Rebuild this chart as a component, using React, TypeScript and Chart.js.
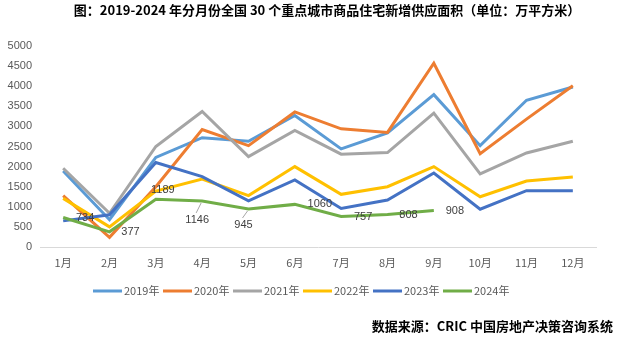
import React, { useEffect, useRef } from "react";
import { Chart, registerables } from "chart.js";

Chart.register(...registerables);

const TITLE = "图：2019-2024 年分月份全国 30 个重点城市商品住宅新增供应面积（单位：万平方米）";
const SOURCE = "数据来源：CRIC 中国房地产决策咨询系统";

const months = ["1月", "2月", "3月", "4月", "5月", "6月", "7月", "8月", "9月", "10月", "11月", "12月"];
const seriesNames = ["2019年", "2020年", "2021年", "2022年", "2023年", "2024年"];
const seriesColors = ["#5B9BD5", "#ED7D31", "#A5A5A5", "#FFC000", "#4472C4", "#70AD47"];

const v2019 = [1890, 680, 2230, 2720, 2630, 3270, 2440, 2840, 3790, 2520, 3650, 3980];
const v2020 = [1280, 240, 1500, 2920, 2520, 3360, 2940, 2850, 4570, 2320, 3180, 4010];
const v2021 = [1960, 840, 2500, 3370, 2250, 2900, 2310, 2350, 3330, 1820, 2340, 2630];
const v2022 = [1210, 500, 1390, 1690, 1280, 2000, 1310, 1500, 2000, 1250, 1640, 1740];
const v2023 = [650, 800, 2100, 1750, 1150, 1670, 960, 1170, 1840, 940, 1400, 1400];
const v2024 = [734, 377, 1189, 1146, 945, 1060, 757, 808, 908];

const yTicksMax = 5000;
const yTicksStep = 500;

export default function App() {
  const ref = useRef<HTMLCanvasElement | null>(null);

  useEffect(() => {
    const canvas = ref.current;
    if (!canvas) return;
    const allSeries = [v2019, v2020, v2021, v2022, v2023, v2024];

    // label offsets for the 2024 data labels (styling only)
    const labelOffsets = [
      [22, 0], [21, 0], [7, -9], [-5, 19], [-5, 16], [25, 0], [22, 0], [21, 0], [21, 0],
    ];
    const leaders = [false, false, false, true, true, false, false, false, false];

    const overlay = {
      id: "overlay",
      afterDatasetsDraw(chart: any) {
        const ctx = chart.ctx;
        ctx.save();
        const meta = chart.getDatasetMeta(5);
        ctx.font = "11px 'Liberation Sans', Arial, sans-serif";
        ctx.fillStyle = "#404040";
        ctx.textAlign = "center";
        ctx.textBaseline = "middle";
        meta.data.forEach((pt: any, i: number) => {
          const off = labelOffsets[i] || [20, 0];
          const lx = pt.x + off[0];
          const ly = pt.y + off[1];
          if (leaders[i]) {
            ctx.strokeStyle = "#A6A6A6";
            ctx.lineWidth = 1;
            ctx.beginPath();
            ctx.moveTo(pt.x - 1, pt.y + 2);
            ctx.lineTo(lx - 1, ly - 7);
            ctx.stroke();
          }
          ctx.fillText(String(v2024[i]), lx, ly);
        });
        ctx.restore();
      },
      afterDraw(chart: any) {
        const ctx = chart.ctx;
        ctx.save();
        ctx.fillStyle = "#000000";
        ctx.textBaseline = "middle";
        ctx.textAlign = "center";
        ctx.font = "bold 13px 'Noto Sans CJK SC', sans-serif";
        ctx.fillText(TITLE, 327, 10);
        ctx.textAlign = "right";
        ctx.fillText(SOURCE, 613, 326);
        ctx.font = "11px 'Noto Sans CJK SC', sans-serif";
        ctx.textAlign = "left";
        let x = 93;
        const y = 291;
        seriesNames.forEach((name, i) => {
          ctx.strokeStyle = seriesColors[i];
          ctx.lineWidth = 3;
          ctx.beginPath();
          ctx.moveTo(x, y);
          ctx.lineTo(x + 29, y);
          ctx.stroke();
          ctx.fillStyle = "#595959";
          ctx.fillText(name, x + 31, y);
          x += 70;
        });
        ctx.restore();
      },
    };

    const chart = new Chart(canvas, {
      type: "line",
      data: {
        labels: months,
        datasets: allSeries.map((d, i) => ({
          label: seriesNames[i],
          data: d,
          borderColor: seriesColors[i],
          backgroundColor: seriesColors[i],
          borderWidth: 3,
          pointRadius: 0,
          pointHoverRadius: 0,
          tension: 0,
          fill: false,
          order: 5 - i,
        })),
      },
      options: {
        responsive: false,
        animation: false,
        events: [],
        layout: { padding: { top: 46, left: 0, right: 30, bottom: 0 } },
        plugins: {
          legend: { display: false },
          title: { display: false },
          tooltip: { enabled: false },
        },
        scales: {
          x: {
            offset: true,
            grid: { display: false, drawTicks: false },
            border: { display: true, color: "#D9D9D9", width: 1 },
            ticks: {
              color: "#595959",
              font: { size: 11, family: "'Noto Sans CJK SC', sans-serif" },
              padding: 9,
              maxRotation: 0,
              autoSkip: false,
            },
            afterFit(scale: any) {
              scale.height = 93;
            },
          },
          y: {
            min: 0,
            max: yTicksMax,
            grid: { display: false, drawTicks: false },
            border: { display: false },
            ticks: {
              stepSize: yTicksStep,
              color: "#595959",
              font: { size: 11, family: "'Liberation Sans', Arial, sans-serif" },
              padding: 8,
              callback: (v: any) => String(v),
            },
            afterFit(scale: any) {
              scale.width = 40;
            },
          },
        },
      },
      plugins: [overlay],
    });
    return () => chart.destroy();
  }, []);

  return (
    <div style={{ position: "absolute", left: 0, top: 0, width: 626, height: 340, background: "#ffffff" }}>
      <canvas ref={ref} width={626} height={340} style={{ display: "block", width: 626, height: 340 }} />
    </div>
  );
}
